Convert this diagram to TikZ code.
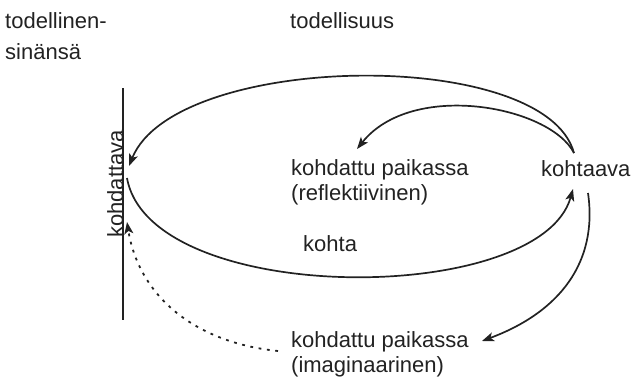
\documentclass[tikz,border=0pt]{standalone}
\usepackage{fontspec}
\setmainfont{Liberation Sans}
\usetikzlibrary{arrows.meta}
\definecolor{ink}{HTML}{222222}
\begin{document}
\begin{tikzpicture}[x=1pt,y=-1pt,
  lbl/.style={inner sep=0pt,anchor=base west,text=ink,font=\fontsize{22}{25}\selectfont},
  tip/.style={-{Stealth[length=12pt,width=9pt,inset=3pt]}},
  conn/.style={draw=ink,line width=1.7pt,tip},
  dotconn/.style={draw=ink,line width=1.8pt,dash pattern=on 2.8pt off 5.6pt,tip}]
\useasboundingbox (0,0) rectangle (633,384);
% texts
\node[lbl] (tsin1) at (5,28) {todellinen-};
\node[lbl] (tsin2) at (5,59) {sinänsä};
\node[lbl] (tod) at (290,28) {todellisuus};
\node[lbl] (refl1) at (291,175) {kohdattu paikassa};
\node[lbl] (refl2) at (291,200) {(reflektiivinen)};
\node[lbl] (kohtaava) at (541,176) {kohtaava};
\node[lbl] (kohta) at (303,251) {kohta};
\node[lbl] (imag1) at (291,347) {kohdattu paikassa};
\node[lbl] (imag2) at (291,372) {(imaginaarinen)};
% vertical line and rotated label
\draw[ink,line width=1.7pt] (123,88) coordinate (ltop) -- (123,320) coordinate (lbot);
\node[lbl,anchor=base,rotate=90] (kohdattava) at (123,184) {kohdattava};
% anchor points
\coordinate (Ktop) at (574,153);
\coordinate (Kbot) at (573,189);
\coordinate (Kright) at (588,193);
\coordinate (Lup) at (129,166);
\coordinate (Llow) at (127,178);
\coordinate (Ltip) at (127,222);
\coordinate (Rtip) at (357,149);
\coordinate (Itip) at (482,341);
\coordinate (Dstart) at (278,351);
% connectors
\draw[conn] (Ktop) .. controls (545,46) and (175,52) .. (Lup);
\draw[conn] (Llow) .. controls (150,307) and (540,307) .. (Kbot);
\draw[conn] (Ktop) .. controls (550,106) and (412,80) .. (Rtip);
\draw[conn] (Kright) .. controls (598,262) and (560,312) .. (Itip);
\draw[dotconn] (Dstart) .. controls (190,342) and (138,292) .. (Ltip);
\end{tikzpicture}
\end{document}
